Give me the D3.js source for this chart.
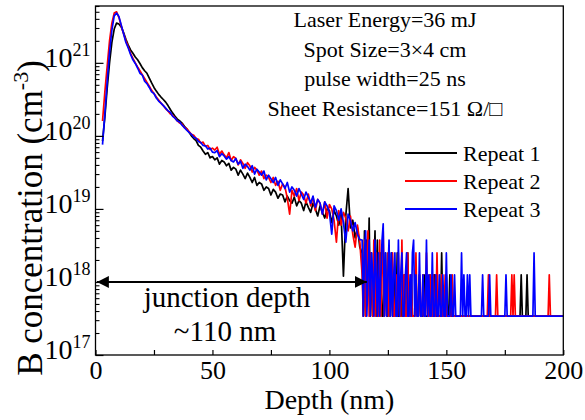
<!DOCTYPE html>
<html><head><meta charset="utf-8">
<script src="https://cdn.jsdelivr.net/npm/d3@7"></script>
<style>
html,body{margin:0;padding:0;background:#fff;}
svg{display:block;font-family:"Liberation Serif","Times New Roman",serif;}
</style></head><body>
<svg id="chart" width="585" height="420"></svg>
<script>
// SIMS boron depth profiles after laser doping, three repeated measurements.
// Sampling grid: 1 nm steps through the profile, 0.5 nm steps in the noise tail.
const depthHead = d3.range(3, 114);
const depthTail = d3.range(114, 200.25, 0.5);
const depth = depthHead.concat(depthTail);

// B concentration (cm^-3)
const repeat1 = [
  8.5e19, 1.8e20, 4.5e20, 1.0e21, 1.9e21, 2.9e21, 3.5e21, 3.4e21, 3.1e21, 2.6e21,
  2.1e21, 1.75e21, 1.5e21, 1.35e21, 1.2e21, 1.1e21, 9.8e20, 8.6e20, 7.8e20, 7.2e20,
  6.2e20, 5.3e20, 4.6e20, 4.1e20, 3.7e20, 3.4e20, 3.15e20, 2.9e20, 2.6e20, 2.3e20,
  2.05e20, 1.85e20, 1.7e20, 1.6e20, 1.5e20, 1.35e20, 1.25e20, 1.12e20, 1.0e20, 9.2e19,
  8.6e19, 7.4e19, 7.0e19, 6.2e19, 5.6e19, 5.9e19, 5.0e19, 5.2e19,
  4.7e19, 5.0e19, 4.1e19, 4.6e19, 4.4e19, 3.9e19, 4.2e19, 3.4e19, 3.7e19, 3.5e19,
  2.9e19, 3.4e19, 3.0e19, 2.6e19, 3.1e19, 2.7e19, 2.3e19, 2.7e19, 2.1e19, 2.3e19,
  2.2e19, 1.8e19, 2.0e19, 1.9e19, 1.55e19, 1.85e19, 1.7e19, 1.4e19, 1.6e19, 1.55e19,
  1.25e19, 1.5e19, 1.3e19, 1.2e19, 1.45e19, 1.1e19, 1.3e19, 1.2e19, 9.5e18, 1.25e19,
  1.05e19, 9.0e18, 1.2e19, 1.0e19, 8.0e18, 1.1e19, 9.0e18, 7.5e18, 1.0e19, 9.5e18,
  6.5e18, 9.5e18, 8.0e18, 6.0e18, 8.5e18, 1.2e18, 8.0e18, 1.9e19, 5.5e18, 7.0e18,
  4.0e18, 5.5e18, 3.0e18,
  2.5e18, 3.4e17, 5e18, 3.4e17, 3.75e18, 1.25e18, 7.5e18, 3.4e17, 2.5e18, 3.4e17,
  1.25e18, 5e18, 3.4e17, 3.75e18, 3.4e17, 1.25e18, 2.5e18, 3.4e17, 3.4e17, 1.25e18,
  2.5e18, 3.4e17, 3.4e17, 1.25e18, 3.4e17, 2.5e18, 3.4e17, 3.4e17, 1.25e18, 3.4e17,
  2.5e18, 3.4e17, 3.4e17, 1.25e18, 3.4e17, 3.4e17, 1.25e18, 3.4e17, 3.4e17, 2.5e18,
  3.4e17, 3.4e17, 1.25e18, 3.4e17, 3.4e17, 3.4e17, 1.25e18, 3.4e17, 3.4e17, 1.25e18,
  3.4e17, 3.4e17, 3.4e17, 1.25e18, 3.4e17, 3.4e17, 3.4e17, 3.4e17, 1.25e18, 3.4e17,
  3.4e17, 3.4e17, 1.25e18, 3.4e17, 3.4e17, 3.4e17, 3.4e17, 3.4e17, 2.5e18, 3.4e17,
  3.4e17, 3.4e17, 1.25e18, 3.4e17, 3.4e17, 1.25e18, 3.4e17, 3.4e17, 3.4e17, 3.4e17,
  3.4e17, 3.4e17, 3.4e17, 3.4e17, 3.4e17, 3.4e17, 3.4e17, 3.4e17, 3.4e17, 3.4e17,
  3.4e17, 3.4e17, 3.4e17, 3.4e17, 3.4e17, 3.4e17, 3.4e17, 3.4e17, 3.4e17, 3.4e17,
  3.4e17, 3.4e17, 3.4e17, 3.4e17, 3.4e17, 3.4e17, 3.4e17, 3.4e17, 3.4e17, 3.4e17,
  3.4e17, 3.4e17, 3.4e17, 3.4e17, 3.4e17, 3.4e17, 3.4e17, 3.4e17, 3.4e17, 3.4e17,
  3.4e17, 3.4e17, 3.4e17, 3.4e17, 3.4e17, 3.4e17, 3.4e17, 3.4e17, 3.4e17, 3.4e17,
  3.4e17, 3.4e17, 3.4e17, 3.4e17, 3.4e17, 3.4e17, 1.25e18, 3.4e17, 3.4e17, 3.4e17,
  3.4e17, 1.25e18, 3.4e17, 3.4e17, 3.4e17, 3.4e17, 3.4e17, 3.4e17, 3.4e17, 3.4e17,
  3.4e17, 3.4e17, 3.4e17, 3.4e17, 3.4e17, 3.4e17, 3.4e17, 3.4e17, 3.4e17, 3.4e17,
  3.4e17, 3.4e17, 3.4e17, 3.4e17, 3.4e17, 3.4e17, 3.4e17, 3.4e17, 3.4e17, 3.4e17,
  3.4e17, 3.4e17, 3.4e17
];

const repeat2 = [
  1.6e20, 4.0e20, 9.0e20, 2.0e21, 3.5e21, 4.8e21, 5.0e21, 4.2e21, 3.2e21, 2.5e21,
  2.0e21, 1.65e21, 1.35e21, 1.15e21, 1.0e21, 8.8e20, 7.8e20, 6.9e20, 6.1e20, 5.4e20,
  4.8e20, 4.2e20, 3.8e20, 3.4e20, 3.1e20, 2.8e20, 2.6e20, 2.35e20, 2.2e20, 2.0e20,
  1.9e20, 1.75e20, 1.6e20, 1.5e20, 1.45e20, 1.3e20, 1.25e20, 1.15e20, 1.05e20, 1.02e20,
  9.2e19, 9.0e19, 8.0e19, 8.2e19, 7.2e19, 7.4e19, 6.5e19, 6.8e19,
  6.4e19, 7.0e19, 5.6e19, 6.2e19, 5.5e19, 5.0e19, 5.9e19, 4.6e19, 5.2e19, 4.9e19,
  4.0e19, 4.7e19, 4.2e19, 3.6e19, 4.3e19, 3.9e19, 3.2e19, 3.7e19, 3.4e19, 2.9e19,
  3.3e19, 2.6e19, 2.9e19, 2.7e19, 2.3e19, 2.7e19, 2.1e19, 2.4e19, 1.8e19, 2.2e19,
  2.0e19, 1.4e19, 8.5e18, 1.8e19, 1.5e19, 1.9e19, 1.3e19, 1.7e19, 1.55e19, 1.2e19,
  1.6e19, 1.1e19, 1.45e19, 9.5e18, 1.35e19, 1.2e19, 8.5e18, 1.25e19, 7.5e18, 1.15e19,
  1.0e19, 7.0e18, 3.5e18, 9.5e18, 6.0e18, 9.0e18, 7.5e18, 5.0e18, 8.0e18, 4.5e18,
  3.0e18, 6.0e18, 3.5e18,
  1.25e18, 3.4e17, 3.75e18, 3.4e17, 2.5e18, 5e18, 3.4e17, 2.5e18, 1.25e18, 3.4e17,
  3.75e18, 3.4e17, 2.5e18, 3.4e17, 3.4e17, 3.75e18, 3.4e17, 1.25e18, 5e18, 3.4e17,
  1.25e18, 3.4e17, 2.5e18, 3.4e17, 3.4e17, 1.25e18, 2.5e18, 3.4e17, 3.4e17, 1.25e18,
  3.4e17, 2.5e18, 3.4e17, 3.4e17, 3.75e18, 3.4e17, 1.25e18, 3.4e17, 3.4e17, 2.5e18,
  3.4e17, 3.4e17, 1.25e18, 3.4e17, 3.4e17, 3.4e17, 2.5e18, 3.4e17, 3.4e17, 1.25e18,
  3.4e17, 3.4e17, 1.25e18, 3.4e17, 3.4e17, 2.5e18, 3.4e17, 3.4e17, 1.25e18, 3.4e17,
  3.4e17, 1.25e18, 3.4e17, 3.4e17, 2.5e18, 3.4e17, 3.4e17, 3.4e17, 1.25e18, 3.4e17,
  3.4e17, 1.25e18, 3.4e17, 3.4e17, 3.4e17, 3.4e17, 3.4e17, 1.25e18, 3.4e17, 3.4e17,
  3.4e17, 3.4e17, 3.4e17, 3.4e17, 3.4e17, 3.4e17, 3.4e17, 3.4e17, 3.4e17, 3.4e17,
  3.4e17, 3.4e17, 3.4e17, 3.4e17, 3.4e17, 3.4e17, 3.4e17, 3.4e17, 3.4e17, 3.4e17,
  3.4e17, 3.4e17, 3.4e17, 3.4e17, 3.4e17, 3.4e17, 3.4e17, 3.4e17, 1.25e18, 3.4e17,
  3.4e17, 3.4e17, 3.4e17, 3.4e17, 3.4e17, 1.25e18, 3.4e17, 3.4e17, 3.4e17, 3.4e17,
  3.4e17, 3.4e17, 3.4e17, 3.4e17, 3.4e17, 3.4e17, 3.4e17, 3.4e17, 1.25e18, 3.4e17,
  1.25e18, 3.4e17, 3.4e17, 3.4e17, 3.4e17, 3.4e17, 3.4e17, 3.4e17, 3.4e17, 3.4e17,
  3.4e17, 3.4e17, 3.4e17, 3.4e17, 3.4e17, 3.4e17, 3.4e17, 3.4e17, 3.4e17, 3.4e17,
  3.4e17, 3.4e17, 3.4e17, 3.4e17, 3.4e17, 3.4e17, 3.4e17, 3.4e17, 3.4e17, 3.4e17,
  1.25e18, 3.4e17, 3.4e17, 3.4e17, 3.4e17, 3.4e17, 3.4e17, 3.4e17, 3.4e17, 3.4e17,
  3.4e17, 3.4e17, 3.4e17
];

const repeat3 = [
  7.6e19, 2.0e20, 5.6e20, 1.4e21, 2.8e21, 4.4e21, 4.8e21, 4.3e21, 3.3e21, 2.5e21,
  1.9e21, 1.6e21, 1.3e21, 1.1e21, 9.8e20, 8.5e20, 7.2e20, 6.8e20, 5.6e20, 5.2e20,
  4.6e20, 4.0e20, 3.8e20, 3.3e20, 3.0e20, 2.8e20, 2.6e20, 2.4e20, 2.2e20, 2.1e20,
  1.85e20, 1.75e20, 1.6e20, 1.55e20, 1.4e20, 1.3e20, 1.2e20, 1.12e20, 1.05e20, 9.6e19,
  9.3e19, 8.4e19, 8.1e19, 7.4e19, 7.3e19, 6.6e19, 6.8e19, 6.0e19,
  5.9e19, 6.3e19, 5.2e19, 5.7e19, 5.3e19, 4.8e19, 5.2e19, 4.6e19, 4.4e19, 4.9e19,
  4.1e19, 4.5e19, 3.6e19, 4.1e19, 3.8e19, 3.4e19, 3.9e19, 3.0e19, 3.5e19, 3.2e19,
  2.9e19, 3.3e19, 2.5e19, 2.9e19, 2.6e19, 2.3e19, 2.7e19, 2.1e19, 2.5e19, 2.2e19,
  1.9e19, 2.3e19, 1.7e19, 2.0e19, 1.8e19, 1.5e19, 1.9e19, 1.6e19, 1.35e19, 1.7e19,
  1.45e19, 1.2e19, 1.5e19, 1.05e19, 1.35e19, 1.2e19, 8.5e18, 1.25e19, 1.1e19, 9.0e18,
  4.5e18, 1.1e19, 9.5e18, 7.0e18, 1.0e19, 6.5e18, 3.5e18, 8.5e18, 7.0e18, 5.0e18,
  6.5e18, 4.5e18, 3.8e18,
  3.75e18, 3.4e17, 2.5e18, 5e18, 3.4e17, 1.25e18, 3.75e18, 3.4e17, 2.5e18, 1.25e18,
  3.4e17, 3.75e18, 1.25e18, 3.4e17, 2.5e18, 3.4e17, 1.25e18, 3.75e18, 6.25e18, 3.4e17,
  2.5e18, 3.4e17, 1.25e18, 3.75e18, 3.4e17, 2.5e18, 3.4e17, 1.25e18, 2.5e18, 3.4e17,
  3.4e17, 3.75e18, 3.4e17, 1.25e18, 2.5e18, 3.4e17, 3.4e17, 1.25e18, 2.5e18, 3.4e17,
  3.4e17, 1.25e18, 3.4e17, 2.5e18, 3.75e18, 3.4e17, 1.25e18, 3.4e17, 3.4e17, 2.5e18,
  3.4e17, 3.4e17, 1.25e18, 3.4e17, 3.4e17, 3.75e18, 3.4e17, 1.25e18, 3.4e17, 3.4e17,
  2.5e18, 3.4e17, 3.4e17, 1.25e18, 3.4e17, 3.4e17, 1.25e18, 3.4e17, 3.4e17, 1.25e18,
  3.4e17, 3.4e17, 2.5e18, 3.4e17, 3.4e17, 3.4e17, 1.25e18, 3.4e17, 3.4e17, 1.25e18,
  3.4e17, 3.4e17, 3.4e17, 3.4e17, 3.4e17, 2.5e18, 3.4e17, 1.25e18, 3.4e17, 3.4e17,
  1.25e18, 3.4e17, 1.25e18, 3.4e17, 3.4e17, 3.4e17, 3.4e17, 3.4e17, 3.4e17, 3.4e17,
  3.4e17, 3.4e17, 3.4e17, 1.25e18, 3.4e17, 3.4e17, 3.4e17, 3.4e17, 3.4e17, 1.25e18,
  3.4e17, 3.4e17, 3.4e17, 3.4e17, 3.4e17, 3.4e17, 3.4e17, 3.4e17, 3.4e17, 3.4e17,
  3.4e17, 3.4e17, 3.4e17, 1.25e18, 3.4e17, 3.4e17, 3.4e17, 3.4e17, 3.4e17, 3.4e17,
  3.4e17, 3.4e17, 3.4e17, 3.4e17, 3.4e17, 3.4e17, 3.4e17, 3.4e17, 3.4e17, 3.4e17,
  3.4e17, 3.4e17, 3.4e17, 3.4e17, 3.4e17, 3.4e17, 3.4e17, 2.5e18, 3.4e17, 3.4e17,
  3.4e17, 3.4e17, 3.4e17, 3.4e17, 3.4e17, 3.4e17, 3.4e17, 3.4e17, 3.4e17, 3.4e17,
  3.4e17, 3.4e17, 3.4e17, 3.4e17, 3.4e17, 3.4e17, 3.4e17, 3.4e17, 3.4e17, 3.4e17,
  3.4e17, 3.4e17, 3.4e17
];

const seriesNames = ["Repeat 1", "Repeat 2", "Repeat 3"];
const seriesColors = ["#000000", "#ff0000", "#0000ff"];
const xTickValues = [0, 25, 50, 75, 100, 125, 150, 175, 200];
const xLabelled = [0, 50, 100, 150, 200];
const yDecades = [17, 18, 19, 20, 21];
const conditions = ["Laser Energy=36 mJ", "Spot Size=3×4 cm", "pulse width=25 ns", "Sheet Resistance=151 Ω/□"];
const junctionLabel = ["junction depth", "~110 nm"];
const arrowSpan = [0.6, 116];   // nm, arrow from surface to the junction
const arrowLevel = 1e18;        // cm^-3

const svg = d3.select("#chart");
const x = d3.scaleLinear().domain([0, 200]).range([95.5, 563.3]);
const y = d3.scaleLog().domain([1e17, 6e21]).range([355, 6]);
const [x0, x1] = x.range();
const [yb, yt] = y.range();

svg.append("rect").attr("width", 585).attr("height", 420).attr("fill", "#fff");

const defs = svg.append("defs");
defs.append("clipPath").attr("id", "plotClip").append("rect")
  .attr("x", x0).attr("y", yt).attr("width", x1 - x0).attr("height", yb - yt);
defs.append("marker").attr("id", "arrowHead")
  .attr("viewBox", "0 0 12 12").attr("refX", 12).attr("refY", 6)
  .attr("markerWidth", 12).attr("markerHeight", 12).attr("markerUnits", "userSpaceOnUse")
  .attr("orient", "auto-start-reverse")
  .append("path").attr("d", "M0,0 L12,6 L0,12 Z").attr("fill", "#000");

// profiles
const line = d3.line().x((d, i) => x(depth[i])).y(d => y(d));
const plot = svg.append("g").attr("clip-path", "url(#plotClip)");
[repeat1, repeat2, repeat3].forEach((s, i) => {
  plot.append("path").datum(s).attr("d", line)
    .attr("fill", "none").attr("stroke", seriesColors[i])
    .attr("stroke-width", 1.7).attr("stroke-linejoin", "round");
});

// x axis (ticks inside)
const xAxis = d3.axisBottom(x).tickValues(xTickValues).tickSize(-5).tickSizeOuter(0).tickPadding(6)
  .tickFormat(d => xLabelled.includes(d) ? d : "");
const gx = svg.append("g").attr("transform", `translate(0,${yb})`).call(xAxis);
gx.select(".domain").remove();
gx.selectAll("text").attr("font-size", 26).attr("font-family", "Liberation Serif").attr("fill", "#000");
gx.selectAll("line").attr("stroke", "#000").attr("stroke-width", 1.2);

// y axis: minor ticks then labelled decades
const yMinor = [];
yDecades.forEach(e => { for (let k = 2; k <= 9; k++) { const v = k * Math.pow(10, e); if (v <= 6e21) yMinor.push(v); } });
const gyMinor = svg.append("g").attr("transform", `translate(${x0},0)`)
  .call(d3.axisLeft(y).tickValues(yMinor).tickSize(-4).tickSizeOuter(0).tickFormat(""));
gyMinor.select(".domain").remove();
gyMinor.selectAll("line").attr("stroke", "#000").attr("stroke-width", 1.1);

const yMajor = yDecades.map(e => Math.pow(10, e));
const gy = svg.append("g").attr("transform", `translate(${x0},0)`)
  .call(d3.axisLeft(y).tickValues(yMajor).tickSize(-8).tickSizeOuter(0).tickPadding(5).tickFormat(""));
gy.select(".domain").remove();
gy.selectAll("line").attr("stroke", "#000").attr("stroke-width", 1.2);
gy.selectAll(".tick text").each(function (d) {
  const t = d3.select(this).attr("font-family", "Liberation Serif").attr("fill", "#000").attr("dy", "0.35em");
  t.append("tspan").attr("font-size", 28).text("10");
  t.append("tspan").attr("font-size", 18).attr("dy", -11).text(Math.round(Math.log10(d)));
});

// frame
svg.append("rect").attr("x", x0).attr("y", yt).attr("width", x1 - x0).attr("height", yb - yt)
  .attr("fill", "none").attr("stroke", "#000").attr("stroke-width", 1.3);

// axis titles
svg.append("text").attr("x", (x0 + x1) / 2).attr("y", 409).attr("text-anchor", "middle")
  .attr("font-size", 28).text("Depth (nm)");
const yTitle = svg.append("text").attr("transform", "translate(42,218) rotate(-90)")
  .attr("text-anchor", "middle").attr("font-size", 35);
yTitle.append("tspan").text("B concentration (cm");
yTitle.append("tspan").attr("font-size", 22).attr("dy", -14).text("-3");
yTitle.append("tspan").attr("dy", 14).text(")");

// process conditions
svg.append("g").selectAll("text").data(conditions).join("text")
  .attr("x", 385).attr("y", (d, i) => 27 + i * 29.5).attr("text-anchor", "middle")
  .attr("font-size", 22).text(d => d);

// legend
const leg = svg.append("g").selectAll("g").data(seriesNames).join("g")
  .attr("transform", (d, i) => `translate(405,${153 + i * 28})`);
leg.append("line").attr("x1", 0).attr("x2", 52).attr("stroke", (d, i) => seriesColors[i]).attr("stroke-width", 2);
leg.append("text").attr("x", 58).attr("y", 7.5).attr("font-size", 22).text(d => d);

// junction depth arrow
svg.append("line")
  .attr("x1", x(arrowSpan[0])).attr("x2", x(arrowSpan[1]))
  .attr("y1", y(arrowLevel)).attr("y2", y(arrowLevel))
  .attr("stroke", "#000").attr("stroke-width", 2)
  .attr("marker-start", "url(#arrowHead)").attr("marker-end", "url(#arrowHead)");
svg.append("text").attr("x", 227).attr("y", 307).attr("text-anchor", "middle").attr("font-size", 29).text(junctionLabel[0]);
svg.append("text").attr("x", 225).attr("y", 341).attr("text-anchor", "middle").attr("font-size", 29).text(junctionLabel[1]);
</script>
</body></html>
